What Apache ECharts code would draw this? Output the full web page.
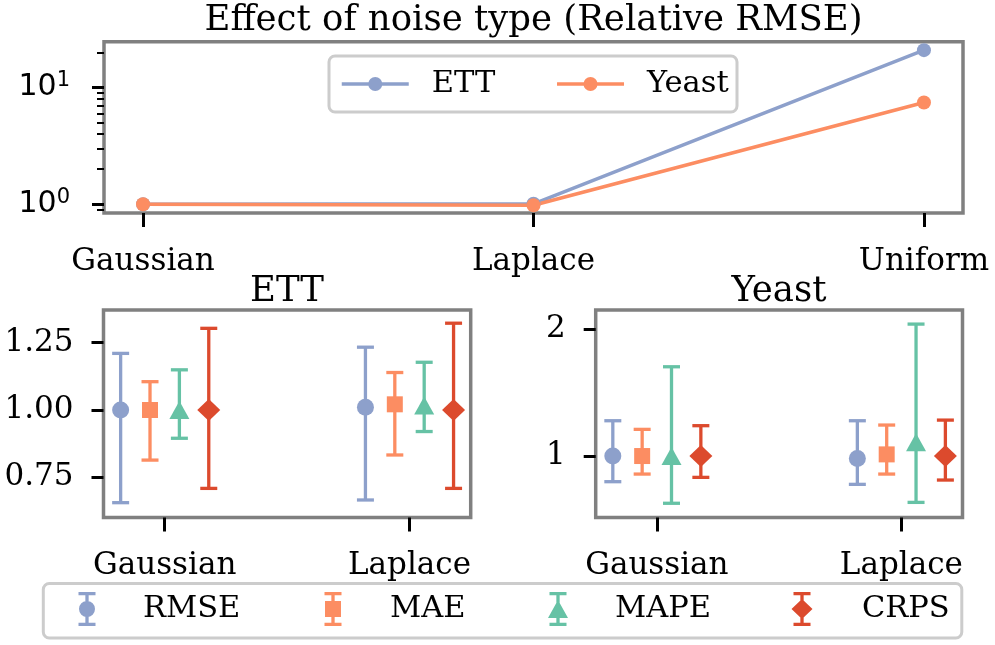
<!DOCTYPE html>
<html><head><meta charset="utf-8">
<script src="https://cdn.jsdelivr.net/npm/echarts@6.0.0/dist/echarts.min.js"></script>
<style>html,body{margin:0;padding:0;background:#fff}#c{width:995px;height:645px}</style>
</head><body><div id="c"></div>
<script>
// ---------- data ----------
const topCategories = ['Gaussian', 'Laplace', 'Uniform'];
const topETT = [1.0, 1.01, 20.9];
const topYeast = [1.0, 0.98, 7.44];
const topMajorTicks = [1, 10];
const topMinorTicks = [0.9, 2, 3, 4, 5, 6, 7, 8, 9, 20];

const noiseTypes = ['Gaussian', 'Laplace'];
const metrics = ['RMSE', 'MAE', 'MAPE', 'CRPS'];
// rows: [value, lower, upper] per noise type
const ettRMSE = [[1.00, 0.656, 1.210], [1.010, 0.666, 1.233]];
const ettMAE  = [[1.00, 0.814, 1.105], [1.021, 0.833, 1.139]];
const ettMAPE = [[1.00, 0.895, 1.149], [1.017, 0.920, 1.177]];
const ettCRPS = [[1.00, 0.709, 1.303], [1.000, 0.709, 1.322]];
const yeastRMSE = [[1.00, 0.798, 1.278], [0.980, 0.777, 1.278]];
const yeastMAE  = [[1.00, 0.858, 1.210], [1.013, 0.858, 1.244]];
const yeastMAPE = [[1.00, 0.628, 1.703], [1.109, 0.635, 2.039]];
const yeastCRPS = [[1.00, 0.832, 1.239], [1.000, 0.811, 1.283]];
const ettTicks = [0.75, 1.00, 1.25];
const yeastTicks = [1, 2];

// ---------- styles ----------
const FONT = 'DejaVu Serif';
const FS_TICK = 31;
const FS_LEG = 30.5;
const FS_TITLE = 35.5;
const colors = {RMSE: '#8da0cb', MAE: '#fc8d62', MAPE: '#66c2a5', CRPS: '#dc4a2d'};
const lineColors = {ETT: '#8da0cb', Yeast: '#fc8d62'};
const offsets = [-0.18, -0.06, 0.06, 0.18];
const symbols = {RMSE: ['circle', 17], MAE: ['rect', 16], MAPE: ['triangle', [20, 18]], CRPS: ['diamond', [23, 22]]};
const icons = {
  RMSE: 'path://M0 0H17V3.3H0Z M6.85 3.3H10.15V30.7H6.85Z M0 30.7H17V34H0Z M0.5 17A8 8 0 1 1 16.5 17A8 8 0 1 1 0.5 17Z',
  MAE: 'path://M0 0H17V3.3H0Z M6.85 3.3H10.15V30.7H6.85Z M0 30.7H17V34H0Z M0.5 9H16.5V25H0.5Z',
  MAPE: 'path://M1.5 0H18.5V3.3H1.5Z M8.35 3.3H11.65V30.7H8.35Z M1.5 30.7H18.5V34H1.5Z M10 8L20 26L0 26Z',
  CRPS: 'path://M2 0H19V3.3H2Z M8.85 3.3H12.15V30.7H8.85Z M2 30.7H19V34H2Z M10.5 7L21 17L10.5 27L0 17Z'
};
// legend layout: icon centre x, icon width, text start x
const legIconX = [87, 333, 558, 802];
const legIconW = [17, 17, 20, 21];
const legTextX = [143, 390, 615, 862];

const txt = {fontFamily: FONT, fontSize: FS_TICK, color: '#000'};
const tickStyle = {color: '#000', width: 3};
const frame = {show: true, borderColor: '#808080', borderWidth: 3.5, backgroundColor: 'transparent'};

function errSeries(name, rows, idx, ax) {
  const data = rows.map((r, i) => [i + offsets[idx], r[0], r[1], r[2]]);
  return [{
    type: 'custom', name: name, xAxisIndex: ax, yAxisIndex: ax + 1, z: 3,
    itemStyle: {color: colors[name]},
    data: data, encode: {x: 0, y: [2, 3]},
    renderItem: function (params, api) {
      const x = api.value(0);
      const lo = api.coord([x, api.value(2)]);
      const hi = api.coord([x, api.value(3)]);
      const st = {stroke: colors[name], lineWidth: 3.3, fill: null};
      const hw = 8.5;
      return {type: 'group', children: [
        {type: 'line', shape: {x1: lo[0], y1: lo[1], x2: hi[0], y2: hi[1]}, style: st},
        {type: 'line', shape: {x1: lo[0] - hw, y1: lo[1], x2: lo[0] + hw, y2: lo[1]}, style: st},
        {type: 'line', shape: {x1: hi[0] - hw, y1: hi[1], x2: hi[0] + hw, y2: hi[1]}, style: st}
      ]};
    }
  }, {
    type: 'scatter', name: name, xAxisIndex: ax, yAxisIndex: ax + 1, z: 4,
    symbol: symbols[name][0], symbolSize: symbols[name][1],
    itemStyle: {color: colors[name], opacity: 1},
    data: data.map(d => [d[0], d[1]])
  }];
}

const ettSets = [ettRMSE, ettMAE, ettMAPE, ettCRPS];
const yeastSets = [yeastRMSE, yeastMAE, yeastMAPE, yeastCRPS];
let series = [];
metrics.forEach((m, i) => { series = series.concat(errSeries(m, ettSets[i], i, 1)); });
metrics.forEach((m, i) => { series = series.concat(errSeries(m, yeastSets[i], i, 2)); });
series.push({
  type: 'line', name: 'ETT', xAxisIndex: 0, yAxisIndex: 0, z: 2,
  data: topETT.map((v, i) => [i, v]), symbol: 'circle', symbolSize: 14,
  lineStyle: {width: 3.5, color: lineColors.ETT}, itemStyle: {color: lineColors.ETT}
});
series.push({
  type: 'line', name: 'Yeast', xAxisIndex: 0, yAxisIndex: 0, z: 2,
  data: topYeast.map((v, i) => [i, v]), symbol: 'circle', symbolSize: 14,
  lineStyle: {width: 3.5, color: lineColors.Yeast}, itemStyle: {color: lineColors.Yeast}
});

function catX(gridIndex, min, max, cats, margin) {
  const vals = cats.map((c, i) => i);
  return {
    gridIndex: gridIndex, type: 'value', min: min, max: max, position: 'bottom',
    axisLine: {show: false, onZero: false}, splitLine: {show: false},
    axisTick: {show: true, customValues: vals, length: 14, lineStyle: tickStyle},
    axisLabel: Object.assign({customValues: vals, formatter: v => cats[Math.round(v)], margin: margin}, txt)
  };
}

const metricLegends = metrics.map((m, i) => {
  const left = legIconX[i] - legIconW[i] / 2;
  return {
    data: [{name: m, icon: icons[m]}], left: left, top: 592, padding: 0,
    itemWidth: legIconW[i], itemHeight: 34, selectedMode: false, z: 10,
    itemStyle: {borderWidth: 0},
    textStyle: {fontFamily: FONT, fontSize: FS_LEG, color: '#000', lineHeight: 34,
                padding: [0, 0, 0, legTextX[i] - (left + legIconW[i] + 5)]}
  };
});

const chart = echarts.init(document.getElementById('c'));
chart.setOption({
  animation: false,
  backgroundColor: '#fff',
  grid: [
    Object.assign({left: 104, top: 41.7, width: 859, height: 171.3}, frame),
    Object.assign({left: 103.5, top: 310, width: 367.2, height: 207.5}, frame),
    Object.assign({left: 595.7, top: 310, width: 366.8, height: 207.5}, frame)
  ],
  xAxis: [
    catX(0, -0.1, 2.1, topCategories, 33),
    catX(1, -0.25, 1.25, noiseTypes, 33),
    catX(2, -0.25, 1.25, noiseTypes, 33)
  ],
  yAxis: [
    {gridIndex: 0, type: 'log', logBase: 10, min: 0.842, max: 24.7, position: 'left',
     axisLine: {show: false, onZero: false}, splitLine: {show: false},
     axisTick: {show: true, customValues: topMajorTicks, length: 12, lineStyle: tickStyle},
     axisLabel: {customValues: topMajorTicks, margin: 34,
       formatter: v => '{b|10}{s|' + Math.round(Math.log10(v)) + '}',
       rich: {b: {fontFamily: 'DejaVu Sans', fontSize: 30, color: '#000', lineHeight: 34},
              s: {fontFamily: 'DejaVu Sans', fontSize: 21, color: '#000', verticalAlign: 'top', lineHeight: 22}}}},
    {gridIndex: 0, type: 'log', logBase: 10, min: 0.842, max: 24.7, position: 'left', offset: 0,
     axisLine: {show: false, onZero: false}, splitLine: {show: false}, axisLabel: {show: false},
     axisTick: {show: true, customValues: topMinorTicks, length: 7, lineStyle: {color: '#000', width: 2}}},
    {gridIndex: 1, type: 'value', min: 0.601, max: 1.371, position: 'left',
     axisLine: {show: false, onZero: false}, splitLine: {show: false},
     axisTick: {show: true, customValues: ettTicks, length: 12, lineStyle: tickStyle},
     axisLabel: Object.assign({customValues: ettTicks, formatter: v => v.toFixed(2), margin: 30}, txt)},
    {gridIndex: 2, type: 'value', min: 0.516, max: 2.15, position: 'left',
     axisLine: {show: false, onZero: false}, splitLine: {show: false},
     axisTick: {show: true, customValues: yeastTicks, length: 12, lineStyle: tickStyle},
     axisLabel: Object.assign({customValues: yeastTicks, formatter: v => String(Math.round(v)), margin: 30}, txt)}
  ],
  legend: [
    {data: ['ETT', 'Yeast'], left: 340, top: 67, padding: 0, itemWidth: 67, itemHeight: 17.5, itemGap: 60,
     selectedMode: false, z: 10, lineStyle: {width: 3.5},
     textStyle: {fontFamily: FONT, fontSize: FS_LEG, color: '#000', lineHeight: 34, padding: [0, 0, 0, 18]}}
  ].concat(metricLegends),
  graphic: [
    {type: 'text', x: 533.5, y: 21, style: {text: 'Effect of noise type (Relative RMSE)', fontFamily: FONT, fontSize: FS_TITLE, fill: '#000', align: 'center', verticalAlign: 'middle'}},
    {type: 'text', x: 287, y: 291.5, style: {text: 'ETT', fontFamily: FONT, fontSize: FS_TITLE, fill: '#000', align: 'center', verticalAlign: 'middle'}},
    {type: 'text', x: 779, y: 291.5, style: {text: 'Yeast', fontFamily: FONT, fontSize: FS_TITLE, fill: '#000', align: 'center', verticalAlign: 'middle'}},
    {type: 'rect', z: 5, shape: {x: 329, y: 56, width: 408, height: 56, r: 6}, style: {fill: 'rgba(255,255,255,0.8)', stroke: '#cccccc', lineWidth: 3}},
    {type: 'rect', z: 5, shape: {x: 43.3, y: 583.5, width: 918.5, height: 54.5, r: 6}, style: {fill: '#fff', stroke: '#cccccc', lineWidth: 3}}
  ],
  series: series
});
</script></body></html>
